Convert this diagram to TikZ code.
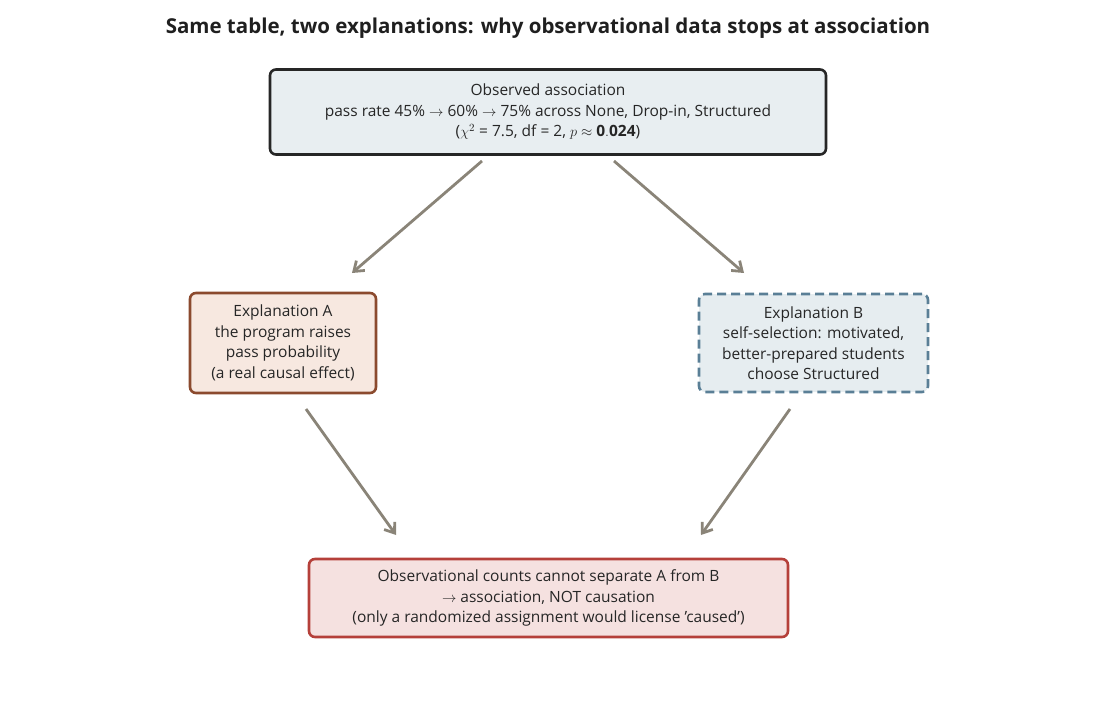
\documentclass[tikz,border=0pt]{standalone}
\usepackage{fontspec}
\setmainfont{Open Sans}
\usetikzlibrary{arrows.meta}
\definecolor{arr}{HTML}{8A8478}
\begin{document}
\begin{tikzpicture}[x=1pt,y=-1pt,
 box/.style={draw, rounded corners=6pt, line width=2.6pt, align=center, font=\fontsize{15.5}{20.5}\selectfont, text=black!85, inner sep=0pt},
 con/.style={draw=arr, line width=2.8pt, -{Straight Barb[length=9pt,width=13pt]}}]
\useasboundingbox (0,0) rectangle (1096,706);
\node[font=\fontsize{20.5}{24}\selectfont\bfseries, text=black!88] (title) at (548,28) {Same table, two explanations: why observational data stops at association};
\node[box, draw=black!85, fill={rgb,255:red,232;green,238;blue,241}, minimum width=556pt, minimum height=85pt] (top) at (548,112)
 {Observed association\\ pass rate 45\% $\rightarrow$ 60\% $\rightarrow$ 75\% across None, Drop-in, Structured\\ ($\chi^2$ = 7.5, df = 2, $p\approx\mathbf{0.024}$)};
\node[box, draw={rgb,255:red,139;green,74;blue,46}, fill={rgb,255:red,247;green,232;blue,224}, minimum width=186pt, minimum height=100pt] (a) at (283,343)
 {Explanation A\\ the program raises\\ pass probability\\ (a real causal effect)};
\node[box, dashed, dash pattern=on 9pt off 5pt, draw={rgb,255:red,90;green,127;blue,150}, fill={rgb,255:red,230;green,237;blue,240}, minimum width=229pt, minimum height=98pt] (b) at (813.5,343)
 {Explanation B\\ self-selection: motivated,\\ better-prepared students\\ choose Structured};
\node[box, draw={rgb,255:red,181;green,64;blue,58}, fill={rgb,255:red,245;green,225;blue,224}, minimum width=479pt, minimum height=78pt] (bot) at (548.5,598)
 {Observational counts cannot separate A from B\\ $\rightarrow$\ association, NOT causation\\ (only a randomized assignment would license 'caused')};
\coordinate (t1) at (482,161); \coordinate (e1) at (352,273);
\coordinate (t2) at (614,161); \coordinate (e2) at (744,273);
\coordinate (a1) at (306,409); \coordinate (e3) at (396,535);
\coordinate (b1) at (790,409); \coordinate (e4) at (701,535);
\draw[con] (t1) -- (e1);
\draw[con] (t2) -- (e2);
\draw[con] (a1) -- (e3);
\draw[con] (b1) -- (e4);
\end{tikzpicture}
\end{document}
